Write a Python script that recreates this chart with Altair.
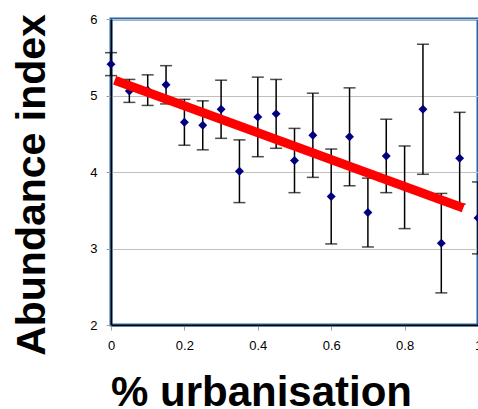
import altair as alt
import pandas as pd

urban = [0.0, 0.05, 0.1, 0.15, 0.2, 0.25, 0.3, 0.35, 0.4, 0.45, 0.5,
         0.55, 0.6, 0.65, 0.7, 0.75, 0.8, 0.85, 0.9, 0.95, 1.0]
abundance = [5.41, 5.06, 5.07, 5.14, 4.65, 4.61, 4.82, 4.01, 4.72, 4.76, 4.15,
             4.48, 3.68, 4.46, 3.47, 4.21, 3.80, 4.82, 3.07, 4.18, 3.40]
err = [0.15, 0.15, 0.20, 0.25, 0.30, 0.32, 0.38, 0.41, 0.52, 0.45, 0.42,
       0.55, 0.62, 0.64, 0.45, 0.48, 0.54, 0.85, 0.65, 0.60, 0.47]
trend_x = [0.01, 0.96]
trend_y = [5.20, 3.53]

df = pd.DataFrame({"u": urban, "a": abundance, "e": err})
df["lo"] = df["a"] - df["e"]
df["hi"] = df["a"] + df["e"]
tr = pd.DataFrame({"u": trend_x, "a": trend_y})

xs = alt.Scale(domain=[0, 1], nice=False, zero=False)
ys = alt.Scale(domain=[2, 6], nice=False, zero=False)

xaxis = alt.Axis(values=[0, 0.2, 0.4, 0.6, 0.8, 1], format="~g", grid=False,
                 labelFlush=False, title="% urbanisation",
                 titleFontSize=42, titleFontWeight="bold", titleFont="Liberation Sans",
                 titleX=150, titleY=80, titleAlign="center", titleBaseline="alphabetic",
                 titleColor="black")
yaxis = alt.Axis(values=[2, 3, 4, 5, 6], format="d", grid=True,
                 title="Abundance index",
                 titleFontSize=41, titleFontWeight="bold", titleFont="Liberation Sans",
                 titleAngle=270, titleX=-67, titleY=165.5, titleAlign="center",
                 titleBaseline="alphabetic", titleColor="black")

base = alt.Chart(df)

bars = base.mark_rule(color="black", strokeWidth=1.5).encode(
    x=alt.X("u:Q", scale=xs, axis=xaxis),
    y=alt.Y("lo:Q", scale=ys, axis=yaxis),
    y2="hi:Q",
)
cap_lo = base.mark_tick(orient="horizontal", size=12, thickness=1.5, color="black").encode(
    x=alt.X("u:Q", scale=xs), y=alt.Y("lo:Q", scale=ys))
cap_hi = base.mark_tick(orient="horizontal", size=12, thickness=1.5, color="black").encode(
    x=alt.X("u:Q", scale=xs), y=alt.Y("hi:Q", scale=ys))
pts = base.mark_point(shape="diamond", filled=True, size=80, color="#000080", opacity=1).encode(
    x=alt.X("u:Q", scale=xs), y=alt.Y("a:Q", scale=ys))
line = alt.Chart(tr).mark_line(color="#ff0000", strokeWidth=9, strokeCap="butt").encode(
    x=alt.X("u:Q", scale=xs), y=alt.Y("a:Q", scale=ys))

chart = alt.layer(bars, cap_lo, cap_hi, pts, line).properties(
    width=367, height=306,
    autosize=alt.AutoSizeParams(type="none"),
    padding={"left": 111, "top": 19, "right": 0, "bottom": 84},
).configure_view(
    stroke="#2166ac", strokeWidth=3
).configure_axis(
    labelFont="Liberation Sans", labelFontSize=13, labelColor="black",
    domainColor="black", domainWidth=1.5,
    tickColor="#a0a0a0", tickSize=5, tickWidth=1,
    gridColor="#c0c0c0", gridWidth=1,
).configure_axisY(
    labelPadding=9
).configure_axisX(
    labelPadding=9
)

chart.save("out.html", embed_options={"renderer": "svg", "actions": False})
